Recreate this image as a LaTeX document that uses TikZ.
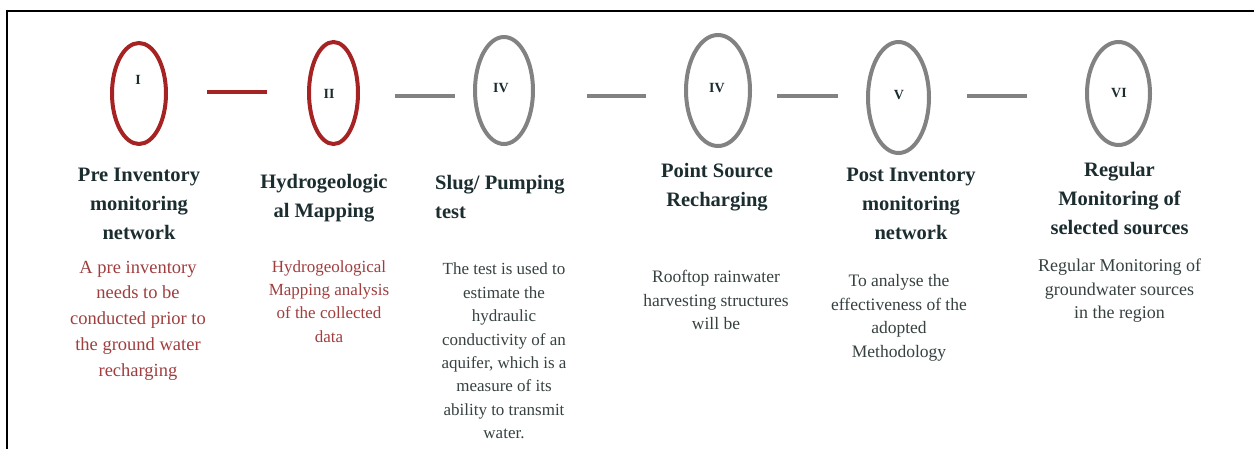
\documentclass[tikz,border=0pt]{standalone}
\usepackage{fontspec}
\setmainfont{Liberation Serif}
\usetikzlibrary{shapes.geometric,calc}
\definecolor{ered}{RGB}{165,35,35}
\definecolor{egray}{RGB}{130,130,130}
\definecolor{ttl}{RGB}{28,45,48}
\definecolor{dred}{RGB}{160,62,62}
\definecolor{dgray}{RGB}{55,65,65}
\tikzset{
  stage/.style={ellipse, draw, line width=4pt, inner sep=0pt, minimum width=54pt, minimum height=102pt},
  redstage/.style={stage, draw=ered},
  graystage/.style={stage, draw=egray},
  numeral/.style={font=\bfseries\fontsize{14}{16}\selectfont, text=ttl, inner sep=0pt},
  redconn/.style={draw=ered, line width=3.8pt},
  grayconn/.style={draw=egray, line width=3.8pt},
  title/.style={font=\bfseries\fontsize{20.5}{29}\selectfont, text=ttl, align=center, inner sep=0pt},
  desc/.style={align=center, inner sep=0pt},
  frameline/.style={draw=black, line width=2pt}
}
\begin{document}
\begin{tikzpicture}[x=1pt,y=-1pt]
\useasboundingbox (0,0) rectangle (1254,448);
\draw[frameline] (7,449) -- (7,11) -- (1255,11);
\coordinate (axisA) at (0,92);
\coordinate (axisB) at (0,96);
% stages
\node[redstage, minimum width=54pt, minimum height=101pt] (e1) at (139,93.5) {};
\node[redstage, minimum width=49pt, minimum height=102pt] (e2) at (333.5,93) {};
\node[graystage, minimum width=58pt, minimum height=107pt] (e3) at (504,90.5) {};
\node[graystage, minimum width=64pt, minimum height=111pt] (e4) at (718,90.5) {};
\node[graystage, minimum width=61pt, minimum height=111pt] (e5) at (898.5,97.5) {};
\node[graystage, minimum width=63pt, minimum height=103pt] (e6) at (1118.5,93.5) {};
% numerals
\node[numeral] (n1) at (138,80) {I};
\node[numeral] (n2) at (329,94) {II};
\node[numeral] (n3) at (501,88) {IV};
\node[numeral] (n4) at (717,88) {IV};
\node[numeral] (n5) at (899,95) {V};
\node[numeral] (n6) at (1119,93) {VI};
% connectors
\draw[redconn] ([xshift=39pt]e1.east |- axisA) -- ([xshift=-40pt]e2.west |- axisA);
\draw[grayconn] ([xshift=35pt]e2.east |- axisB) -- ([xshift=-18pt]e3.west |- axisB);
\draw[grayconn] ([xshift=52pt]e3.east |- axisB) -- ([xshift=-38pt]e4.west |- axisB);
\draw[grayconn] ([xshift=25pt]e4.east |- axisB) -- ([xshift=-28pt]e5.west |- axisB);
\draw[grayconn] ([xshift=36pt]e5.east |- axisB) -- ([xshift=-58pt]e6.west |- axisB);
% titles
\node[title] (t1) at (139,203.5) {Pre Inventory\\monitoring\\network};
\node[title] (t2) at (324,198) {Hydrogeologic\\al Mapping};
\node[title, align=left, anchor=west] (t3) at (435,197) {Slug/ Pumping\\test};
\node[title] (t4) at (717,187) {Point Source\\Recharging};
\node[title] (t5) at (911,204) {Post Inventory\\monitoring\\network};
\node[title] (t6) at (1119.5,199) {Regular\\Monitoring of\\selected sources};
% descriptions
\node[desc, text=dred, font=\fontsize{18.5}{25.7}\selectfont] (d1) at (138,320.5) {A pre inventory\\needs to be\\conducted prior to\\the ground water\\recharging};
\node[desc, text=dred, font=\fontsize{17}{23.3}\selectfont] (d2) at (329,301.5) {Hydrogeological\\Mapping analysis\\of the collected\\data};
\node[desc, text=dgray, font=\fontsize{17}{23.4}\selectfont] (d3) at (504,351) {The test is used to\\estimate the\\hydraulic\\conductivity of an\\aquifer, which is a\\measure of its\\ability to transmit\\water.};
\node[desc, text=dgray, font=\fontsize{17.5}{23.5}\selectfont] (d4) at (716,300) {Rooftop rainwater\\harvesting structures\\will be};
\node[desc, text=dgray, font=\fontsize{17.5}{23.5}\selectfont] (d5) at (899,318) {To analyse the\\effectiveness of the\\adopted\\Methodology};
\node[desc, text=dgray, font=\fontsize{18}{23.5}\selectfont] (d6) at (1119.5,291) {Regular Monitoring of\\groundwater sources\\in the region};
\end{tikzpicture}
\end{document}
